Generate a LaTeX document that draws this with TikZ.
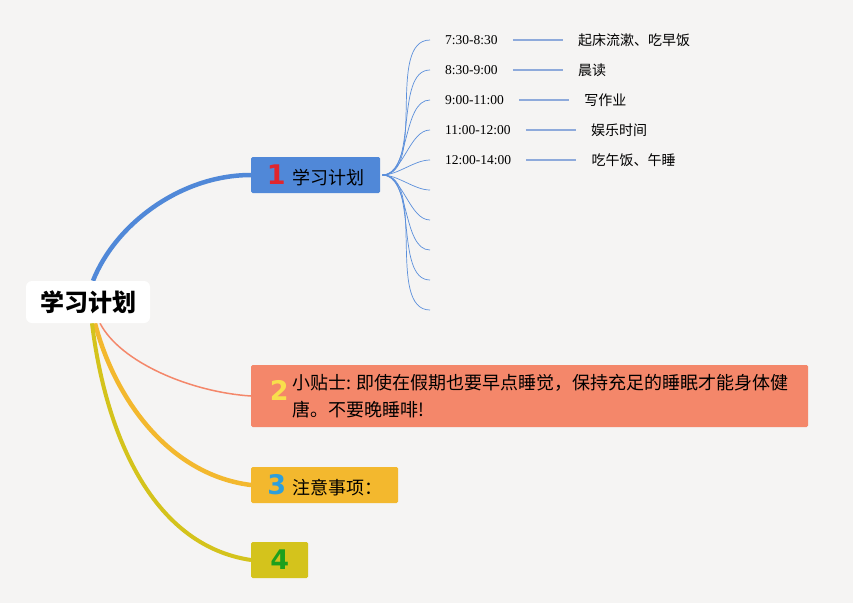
\documentclass[tikz,border=0pt]{standalone}
\usepackage{fontspec}
\usetikzlibrary{backgrounds}
\setmainfont{Noto Sans CJK SC}
\newfontfamily\timefont{Liberation Serif}
\newfontfamily\numfont{DejaVu Sans}

\definecolor{bgcol}{HTML}{F5F4F3}
\definecolor{topicblue}{HTML}{5088D8}
\definecolor{topicsalmon}{HTML}{F4876A}
\definecolor{topicorange}{HTML}{F3B82E}
\definecolor{topicolive}{HTML}{D4C31C}
\definecolor{numred}{HTML}{E0262E}
\definecolor{numyellow}{HTML}{F8DE4C}
\definecolor{numblue}{HTML}{2E9FDB}
\definecolor{numgreen}{HTML}{1DA01D}
\definecolor{fanblue}{HTML}{5B8FDB}
\definecolor{dashblue}{HTML}{8EAADB}

\newcommand{\topicnum}[2]{{\numfont\bfseries\fontsize{27}{27}\selectfont\color{#1}#2}}

\begin{document}
\begin{tikzpicture}[x=1pt, y=-1pt,
    topic/.style={anchor=west, minimum height=36pt, inner sep=0pt,
        rounded corners=1.5pt, font=\fontsize{18}{20}\selectfont},
    timelabel/.style={anchor=west, inner sep=0pt, font=\fontsize{13.5}{15}\timefont},
    todo/.style={anchor=west, inner sep=0pt, font=\fontsize{14}{16}\selectfont},
    fan/.style={fanblue, line width=0.7pt},
    link/.style={dashblue, line width=1.4pt, shorten <=15pt, shorten >=15pt}]
    \node[fill=white, rounded corners=6pt, minimum width=124pt, minimum height=42pt,
        font=\fontsize{24}{26}\selectfont\bfseries] (root) at (88,302) {学习计划};

    \node[topic, fill=topicblue, minimum width=129pt] (t1) at (251,175)
        {\topicnum{numred}{1}\hspace{7pt}学习计划};
    \node[topic, fill=topicsalmon, minimum width=557pt, minimum height=62pt] (t2) at (251,396)
        {\hspace{18pt}\topicnum{numyellow}{2}\hspace{4pt}\parbox[c]{515pt}{\fontsize{18}{27}\selectfont
        小贴士: 即使在假期也要早点睡觉，保持充足的睡眠才能身体健\\唐。不要晚睡啡!}};
    \node[topic, fill=topicorange, minimum width=147pt] (t3) at (251,485)
        {\topicnum{numblue}{3}\hspace{6pt}注意事项：};
    \node[topic, fill=topicolive, minimum width=57pt] (t4) at (251,560)
        {\topicnum{numgreen}{4}};

    \begin{scope}[on background layer]
        % page, then the main branches under the topics
        \fill[bgcol] (0,0) rectangle (853,603);
        \draw[topicblue, line width=4.5pt] ([xshift=5pt]root.north)
            .. controls (115,225) and (180,175) .. (t1.west);
        \draw[topicsalmon, line width=1.5pt] ([xshift=12pt]root.south)
            .. controls (120,362) and (190,392) .. (t2.west);
        \draw[topicorange, line width=4.5pt] ([xshift=7pt]root.south)
            .. controls (115,400) and (170,475) .. (t3.west);
        \draw[topicolive, line width=4pt] ([xshift=4pt]root.south)
            .. controls (105,430) and (150,545) .. (t4.west);
    \end{scope}

    \coordinate (hub) at ([xshift=2pt]t1.east);
    \foreach \i in {1,...,10}
        \coordinate (leaf\i) at (430,10+30*\i);
    \foreach \i in {1,...,10}
        \draw[fan] (hub) to[out=0, in=180, looseness=0.8] (leaf\i);

    \node[timelabel] (time1) at (445,40) {7:30-8:30};
    \node[timelabel] (time2) at (445,70) {8:30-9:00};
    \node[timelabel] (time3) at (445,100) {9:00-11:00};
    \node[timelabel] (time4) at (445,130) {11:00-12:00};
    \node[timelabel] (time5) at (445,160) {12:00-14:00};

    \node[todo] (do1) at ([xshift=80pt]time1.east) {起床流漱、吃早饭};
    \node[todo] (do2) at ([xshift=80pt]time2.east) {晨读};
    \node[todo] (do3) at ([xshift=80pt]time3.east) {写作业};
    \node[todo] (do4) at ([xshift=80pt]time4.east) {娱乐时间};
    \node[todo] (do5) at ([xshift=80pt]time5.east) {吃午饭、午睡};

    \foreach \i in {1,...,5}
        \draw[link] (time\i) -- (do\i);
\end{tikzpicture}
\end{document}
